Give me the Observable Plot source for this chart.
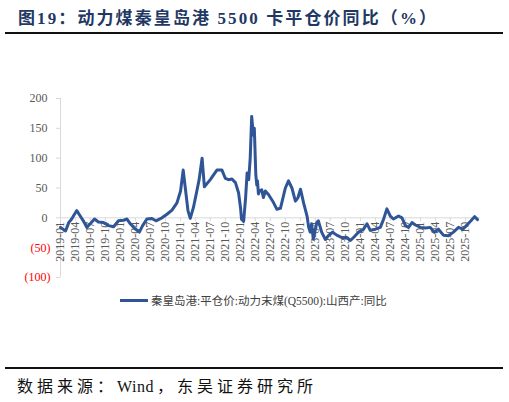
<!DOCTYPE html>
<html><head><meta charset="utf-8">
<script src="https://cdn.jsdelivr.net/npm/d3@7"></script>
<script src="https://cdn.jsdelivr.net/npm/@observablehq/plot@0.6"></script>
<style>
body{margin:0;background:#fff;}
#wrap{position:relative;width:509px;height:402px;overflow:hidden;background:#fff;}
#title{position:absolute;left:18px;top:4px;font-family:"Liberation Serif","Noto Sans CJK SC",serif;font-weight:bold;font-size:17px;letter-spacing:2.1px;color:#1F3864;white-space:nowrap;}
.rule{position:absolute;left:5px;width:498px;height:2px;background:#111;}
#chart{position:absolute;left:0;top:85px;}
#legend{position:absolute;left:120px;top:291px;height:18px;display:flex;align-items:center;white-space:nowrap;font-family:"Liberation Serif","Noto Sans CJK SC",serif;font-size:11.5px;color:#404040;}
#legend .sw{width:28px;height:3px;background:#2F5597;margin-right:3px;}
#source{position:absolute;left:17px;top:373px;font-family:"Liberation Serif","Noto Sans CJK SC",serif;font-size:16px;letter-spacing:4px;color:#111;white-space:nowrap;}
#source .lat{letter-spacing:0.5px;margin-right:3px;}
</style></head>
<body>
<div id="wrap">
  <div id="title">图19：动力煤秦皇岛港 5500 卡平仓价同比（%）</div>
  <div class="rule" style="top:32px"></div>
  <div id="chart"></div>
  <div id="legend"><div class="sw"></div><span>秦皇岛港:平仓价:动力末煤(Q5500):山西产:同比</span></div>
  <div class="rule" style="top:367px"></div>
  <div id="source">数据来源：<span class="lat">Wind</span>，东吴证券研究所</div>
</div>
<script>
const dates = ["2019-01-01","2019-02-01","2019-02-20","2019-03-10","2019-03-27","2019-04-10","2019-05-01","2019-05-20","2019-06-10","2019-07-01","2019-07-27","2019-08-20","2019-09-20","2019-10-20","2019-11-20","2019-12-20","2020-01-20","2020-02-10","2020-03-01","2020-04-01","2020-04-25","2020-05-15","2020-06-10","2020-07-10","2020-08-04","2020-09-10","2020-10-10","2020-11-10","2020-12-10","2021-01-01","2021-01-17","2021-02-01","2021-02-15","2021-03-01","2021-03-20","2021-04-10","2021-04-24","2021-05-12","2021-05-26","2021-07-01","2021-08-10","2021-09-10","2021-10-01","2021-10-20","2021-11-10","2021-12-01","2021-12-20","2022-01-01","2022-01-07","2022-01-20","2022-02-01","2022-02-10","2022-02-20","2022-03-01","2022-03-10","2022-03-20","2022-03-26","2022-04-04","2022-04-10","2022-04-14","2022-04-20","2022-04-26","2022-05-10","2022-05-20","2022-06-01","2022-06-20","2022-07-20","2022-08-10","2022-09-01","2022-10-01","2022-10-20","2022-11-10","2022-12-01","2022-12-17","2023-01-01","2023-01-20","2023-02-10","2023-02-20","2023-03-01","2023-03-10","2023-03-20","2023-04-10","2023-04-20","2023-05-10","2023-06-01","2023-06-20","2023-07-15","2023-08-10","2023-09-10","2023-10-10","2023-11-01","2023-11-20","2023-12-20","2024-01-20","2024-02-10","2024-03-01","2024-04-01","2024-05-01","2024-05-20","2024-06-10","2024-07-01","2024-07-20","2024-08-20","2024-09-10","2024-10-01","2024-10-20","2024-11-10","2024-12-01","2025-01-01","2025-02-01","2025-03-01","2025-03-25","2025-04-20","2025-05-20","2025-06-20","2025-07-20","2025-08-20","2025-09-16","2025-10-10","2025-11-04","2025-11-26","2025-12-14"];
const values = [-16,-22,-8,-2,6,12,3,-5,-16,-10,-2,-7,-8,-13,-15,-5,-4,-2,-10,-19,-24,-13,-2,-1,-5,0,6,13,25,45,80,45,12,-1,17,45,64,100,52,64,80,80,66,64,65,59,42,17,-2,-6,34,75,64,100,170,139,150,73,55,62,40,45,47,34,45,39,26,14.5,16,50,62,50,28,34,48,25,3,-16,-24,-10,-36,-8,-5,-24,-36,-30,-24,-29,-33,-33,-38,-33,-24,-19,-10,-21,-19,-16,-3,15,3,-2,3,0,-13,-16,-8,-12,-16,-17,-16,-24,-19,-29,-30,-24,-16,-19,-12,-5,2,-3];
const yTicks = [200,150,100,50,0,-50,-100];
const xTickLabels = ["2019-01","2019-04","2019-07","2019-10","2020-01","2020-04","2020-07","2020-10","2021-01","2021-04","2021-07","2021-10","2022-01","2022-04","2022-07","2022-10","2023-01","2023-04","2023-07","2023-10","2024-01","2024-04","2024-07","2024-10","2025-01","2025-04","2025-07","2025-10"];

const parse = s => new Date(s.length === 7 ? s + "-01T00:00:00Z" : s + "T00:00:00Z");
const data = dates.map((d, i) => ({date: parse(d), value: values[i]}));
const xTicks = xTickLabels.map(s => ({date: parse(s), label: s}));
const start = parse("2019-01");
const end = parse("2026-01");
const fmt = d => d < 0 ? `(${-d})` : `${d}`;

const chart = Plot.plot({
  width: 509, height: 205,
  marginLeft: 60, marginRight: 29, marginTop: 13, marginBottom: 13,
  x: {type: "utc", domain: [start, end], axis: null},
  y: {domain: [-100, 200], axis: null},
  style: {fontFamily: "Liberation Serif, serif", fontSize: "12px", background: "transparent", overflow: "visible"},
  marks: [
    Plot.ruleX([start], {y1: -100, y2: 200, stroke: "#d9d9d9"}),
    Plot.axisY({ticks: yTicks, tickSize: 4, tickFormat: () => "", label: null, stroke: "#d9d9d9"}),
    Plot.text(yTicks.filter(d => d >= 0), {y: d => d, frameAnchor: "left", dx: -13, textAnchor: "end", text: fmt, fill: "#595959"}),
    Plot.text(yTicks.filter(d => d < 0), {y: d => d, frameAnchor: "left", dx: -10, textAnchor: "end", text: fmt, fill: "#ff0000"}),
    Plot.ruleY([0], {stroke: "#d9d9d9"}),
    Plot.ruleX(xTicks, {x: "date", y1: 0, y2: -6.5, stroke: "#d9d9d9"}),
    Plot.text(xTicks, {x: "date", y: 0, text: "label", rotate: -90, textAnchor: "end", dy: 4, fill: "#595959"}),
    Plot.line(data, {x: "date", y: "value", stroke: "#2F5597", strokeWidth: 3, strokeLinejoin: "round", strokeLinecap: "round"})
  ]
});
document.getElementById("chart").appendChild(chart);
</script>
</body></html>
